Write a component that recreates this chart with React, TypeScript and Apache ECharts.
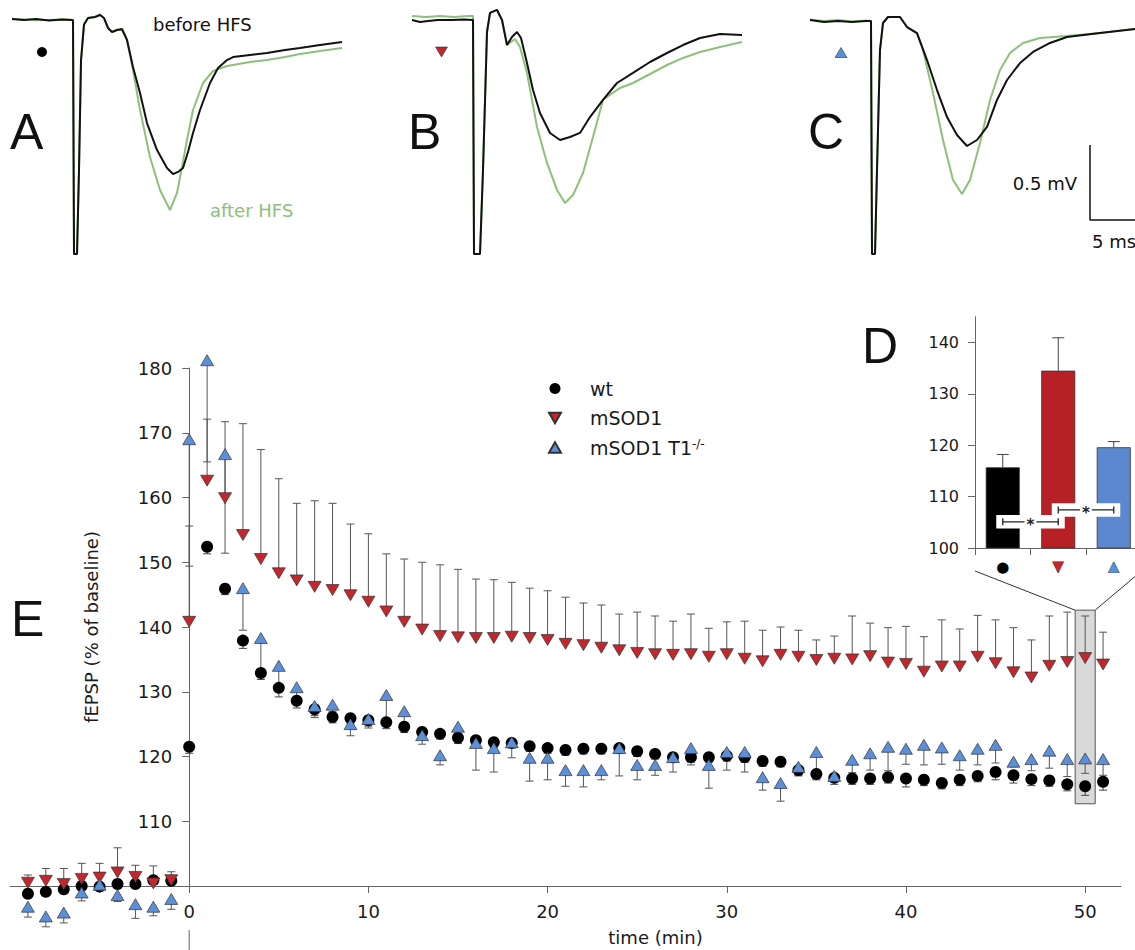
import React, { useEffect, useRef } from 'react';
import * as echarts from 'echarts';

// ---------------- Panel E data (time in min, fEPSP in % of baseline) ----------------
const TIME = [-9, -8, -7, -6, -5, -4, -3, -2, -1, 0, 1, 2, 3, 4, 5, 6, 7, 8, 9, 10, 11, 12, 13, 14, 15, 16, 17, 18, 19, 20, 21, 22, 23, 24, 25, 26, 27, 28, 29, 30, 31, 32, 33, 34, 35, 36, 37, 38, 39, 40, 41, 42, 43, 44, 45, 46, 47, 48, 49, 50, 51];

const WT = [98.8, 99.1, 99.5, 100.0, 99.9, 100.3, 100.3, 100.9, 100.8, 121.5, 152.4, 145.9, 137.9, 132.9, 130.6, 128.6, 127.3, 126.1, 125.9, 125.6, 125.3, 124.6, 123.8, 123.5, 122.9, 122.5, 122.2, 122.1, 121.6, 121.3, 121.0, 121.2, 121.2, 121.3, 120.8, 120.4, 119.9, 119.9, 119.9, 120.1, 119.9, 119.3, 119.2, 117.9, 117.3, 116.7, 116.6, 116.6, 116.8, 116.6, 116.4, 115.9, 116.4, 117.0, 117.6, 117.1, 116.5, 116.3, 115.7, 115.4, 116.1];
const WT_ERR = [0.5, 0.5, 0.6, 0.5, 0.5, 0.6, 0.5, 0.6, 0.5, 1.0, 1.1, 0.9, 1.2, 1.0, 1.4, 1.1, 1.0, 0.9, 0.9, 0.9, 1.0, 0.9, 0.9, 0.8, 0.9, 0.8, 0.8, 0.8, 0.8, 0.8, 0.8, 0.8, 0.8, 0.8, 0.8, 0.8, 0.8, 0.8, 0.8, 0.8, 0.8, 0.8, 0.8, 0.9, 0.9, 1.0, 0.9, 0.9, 0.9, 1.3, 0.9, 0.9, 0.9, 0.9, 1.2, 1.2, 1.0, 0.9, 1.0, 1.4, 1.3];

const MSOD1 = [100.5, 100.8, 100.3, 101.1, 101.3, 102.1, 101.4, 100.4, 100.9, 140.8, 162.6, 159.9, 154.2, 150.5, 148.3, 147.2, 146.2, 145.7, 144.9, 143.9, 142.4, 140.8, 139.6, 138.6, 138.4, 138.3, 138.3, 138.5, 138.3, 138.0, 137.4, 137.2, 136.8, 136.4, 136.0, 135.8, 135.7, 135.8, 135.4, 135.8, 135.1, 134.7, 135.7, 135.4, 134.9, 135.1, 135.0, 135.5, 134.5, 134.3, 133.1, 133.9, 133.9, 135.4, 134.4, 133.0, 132.2, 134.0, 134.6, 135.2, 134.2];
const MSOD1_ERR = [1.2, 1.9, 2.4, 2.4, 2.2, 3.8, 1.8, 2.7, 1.3, 14.8, 9.5, 11.8, 17.2, 16.9, 14.6, 11.9, 13.3, 13.4, 11.0, 10.5, 8.9, 9.7, 10.4, 11.0, 10.5, 9.1, 9.0, 8.4, 7.7, 7.6, 7.2, 6.5, 6.6, 5.6, 6.3, 5.9, 5.2, 6.2, 4.4, 5.0, 5.8, 4.8, 4.3, 4.1, 3.1, 3.5, 6.7, 5.1, 5.4, 5.8, 5.4, 7.2, 5.8, 6.4, 6.7, 6.9, 5.8, 7.7, 7.7, 6.5, 5.0];

const T1KO = [96.8, 95.3, 95.9, 99.0, 100.2, 98.6, 97.2, 96.8, 98.0, 169.0, 181.2, 166.7, 146.0, 138.3, 134.0, 130.7, 127.8, 128.0, 125.0, 125.8, 129.5, 127.0, 123.3, 120.2, 124.6, 122.1, 121.3, 122.2, 119.8, 119.8, 117.9, 117.9, 117.9, 121.3, 118.7, 118.7, 119.9, 121.3, 118.7, 120.7, 120.7, 116.8, 115.9, 118.4, 120.7, 117.0, 119.5, 120.5, 121.5, 121.2, 121.8, 121.4, 120.2, 121.2, 121.8, 119.2, 119.6, 120.9, 119.6, 119.7, 119.6];
const T1KO_ERR = [1.6, 1.6, 1.6, 1.3, 0.8, 1.0, 2.2, 1.4, 1.6, 19.6, 15.7, 15.3, 6.5, 4.8, 3.0, 2.0, 1.8, 1.1, 1.8, 1.4, 3.7, 2.1, 1.4, 1.5, 2.1, 4.2, 3.7, 2.4, 3.6, 3.4, 2.5, 2.6, 1.5, 4.3, 2.3, 1.6, 2.3, 2.6, 3.6, 2.8, 3.1, 2.0, 2.8, 1.3, 3.6, 0.9, 2.0, 2.6, 3.7, 2.4, 3.1, 2.6, 2.3, 2.5, 2.8, 0.8, 1.8, 2.7, 2.7, 2.3, 2.5];

const X_TICKS = [0, 10, 20, 30, 40, 50];
const Y_TICKS = [100, 110, 120, 130, 140, 150, 160, 170, 180];
const Y_LABELS = [110, 120, 130, 140, 150, 160, 170, 180];

// highlighted time window (t = 50 min), in data units
const HIGHLIGHT_T = 50;
const HIGHLIGHT_HALF = 0.56;
const HIGHLIGHT_TOP = 142.6;
const HIGHLIGHT_BOTTOM = 112.7;

// ---------------- Panel D data ----------------
const INSET_GROUPS = ['wt', 'mSOD1', 'mSOD1 T1-/-'];
const INSET_MEANS = [115.7, 134.5, 119.6];
const INSET_ERR = [2.5, 6.4, 1.1];
const INSET_TICKS = [100, 110, 120, 130, 140];
const INSET_SIG = [[0, 1, 105.1], [1, 2, 107.4]];

// ---------------- Panels A-C: traces (ms from stimulus, mV) ----------------
const A_BEFORE = [[-6.2, 0.007], [-5.0, 0.0], [-3.8, 0.007], [-2.5, -0.003], [-1.2, 0.003], [-0.1, 0.0], [0.0, -1.56], [0.3, -1.56], [0.5, -1.0], [0.7, -0.27], [1.0, -0.03], [1.4, 0.013], [2.1, 0.02], [2.6, 0.033], [3.0, 0.013], [3.4, -0.053], [3.8, -0.08], [4.3, -0.067], [4.8, -0.06], [5.3, -0.133], [5.9, -0.313], [6.6, -0.487], [7.3, -0.687], [8.3, -0.867], [9.3, -0.987], [9.9, -1.027], [10.4, -1.013], [10.9, -0.987], [11.4, -0.88], [11.9, -0.753], [12.6, -0.6], [13.6, -0.42], [14.4, -0.32], [15.3, -0.267], [15.9, -0.247], [17.6, -0.233], [19.3, -0.22], [21.1, -0.2], [22.6, -0.187], [24.6, -0.167], [26.8, -0.147]];
const A_AFTER = [[-6.2, 0.007], [-5.0, 0.003], [-3.8, 0.0], [-2.5, 0.0], [-1.2, 0.003], [-0.1, 0.0], [0.0, -1.56], [0.3, -1.56], [0.5, -1.0], [0.7, -0.27], [1.0, -0.03], [1.4, 0.013], [2.1, 0.02], [2.6, 0.037], [3.0, 0.013], [3.4, -0.053], [3.8, -0.08], [4.3, -0.067], [4.8, -0.067], [5.3, -0.133], [5.9, -0.333], [6.6, -0.6], [7.6, -0.913], [8.6, -1.133], [9.6, -1.267], [10.3, -1.153], [10.8, -0.98], [11.3, -0.8], [11.9, -0.6], [12.9, -0.42], [13.9, -0.34], [15.3, -0.307], [15.9, -0.3], [17.6, -0.28], [19.3, -0.267], [21.1, -0.247], [22.6, -0.227], [24.6, -0.207], [26.8, -0.187]];
const B_BEFORE = [[-6.2, 0.0], [-5.4, -0.013], [-4.6, -0.007], [-3.6, 0.0], [-2.2, 0.0], [-1.0, 0.003], [-0.1, 0.0], [0.0, -1.56], [0.6, -1.56], [0.9, -1.0], [1.3, -0.08], [1.6, 0.047], [2.3, 0.067], [2.8, 0.0], [3.3, -0.167], [3.8, -0.113], [4.3, -0.08], [4.7, -0.12], [5.3, -0.287], [5.9, -0.467], [6.6, -0.62], [7.6, -0.753], [8.6, -0.8], [9.6, -0.78], [10.6, -0.753], [11.6, -0.647], [12.9, -0.533], [14.3, -0.42], [15.9, -0.353], [17.6, -0.28], [19.3, -0.22], [20.9, -0.167], [22.6, -0.12], [24.6, -0.093], [26.8, -0.1]];
const B_AFTER = [[-6.2, 0.027], [-4.8, 0.02], [-3.4, 0.027], [-2.0, 0.02], [-0.6, 0.027], [-0.1, 0.027], [0.0, -1.56], [0.6, -1.56], [0.9, -1.0], [1.3, -0.08], [1.6, 0.047], [2.3, 0.067], [2.8, 0.0], [3.3, -0.167], [4.1, -0.127], [4.6, -0.18], [5.3, -0.353], [6.3, -0.713], [7.3, -0.953], [8.3, -1.133], [9.1, -1.22], [9.9, -1.167], [10.9, -1.02], [11.9, -0.78], [12.9, -0.533], [13.3, -0.513], [14.6, -0.453], [15.9, -0.42], [17.6, -0.36], [19.3, -0.3], [20.9, -0.253], [22.6, -0.213], [24.6, -0.18], [26.8, -0.147]];
const C_BEFORE = [[-6.2, 0.0], [-4.8, -0.013], [-3.4, -0.007], [-2.0, -0.013], [-0.6, -0.007], [-0.1, -0.007], [0.0, -1.56], [0.3, -1.56], [0.5, -1.0], [0.8, -0.2], [1.1, -0.02], [1.6, 0.02], [2.8, 0.02], [3.5, -0.047], [4.5, -0.087], [5.5, -0.267], [6.5, -0.467], [7.5, -0.647], [8.5, -0.767], [9.5, -0.84], [10.5, -0.8], [11.5, -0.713], [12.5, -0.533], [13.5, -0.4], [14.8, -0.287], [16.1, -0.213], [17.8, -0.153], [19.5, -0.113], [22.8, -0.087], [26.3, -0.06], [27.3, -0.055]];
const C_AFTER = [[-6.2, 0.003], [-4.8, -0.007], [-3.4, 0.0], [-2.0, -0.01], [-0.6, -0.003], [-0.1, -0.007], [0.0, -1.56], [0.3, -1.56], [0.5, -1.0], [0.8, -0.2], [1.1, -0.02], [1.6, 0.02], [2.8, 0.02], [3.5, -0.047], [4.5, -0.087], [5.1, -0.2], [6.1, -0.487], [7.1, -0.8], [8.1, -1.067], [9.0, -1.16], [9.8, -1.067], [10.8, -0.82], [11.8, -0.533], [12.8, -0.333], [13.8, -0.22], [15.1, -0.153], [16.8, -0.12], [19.5, -0.107], [22.8, -0.087], [26.3, -0.06], [27.3, -0.055]];

// scale bar (panel C)
const SCALE_MV = 0.5;
const SCALE_MS = 5;
const SCALE_ORIGIN = [21.8, -1.333];

const RED = '#c1272d';
const BLUE = '#5b8fd8';
const GREEN = '#8dc07b';
const TXT = '#1a1a1a';
const AXIS = '#666';
const DOWN_TRI = 'path://M0,0L10,0L5,8.66Z';
const UP_TRI = 'path://M5,0L10,8.66L0,8.66Z';

const MAIN_GRID = { left: 10, top: 368, width: 1111, height: 518, outerBoundsMode: 'none' };
const INSET_GRID = { left: 975, top: 316.7, width: 166.5, height: 231.3, outerBoundsMode: 'none' };
const MAIN_X_MIN = -10;
const MAIN_X_MAX = 52;

function errRender(dir: number, capHalf: number, color: string) {
  return (_params: any, api: any) => {
    const t = api.value(0);
    const v = api.value(1);
    const e = api.value(2);
    const p0 = api.coord([t, v]);
    const p1 = api.coord([t, v + dir * e]);
    const st = { stroke: color, lineWidth: 1 };
    return {
      type: 'group',
      children: [
        { type: 'line', shape: { x1: p0[0], y1: p0[1], x2: p1[0], y2: p1[1] }, style: st },
        { type: 'line', shape: { x1: p1[0] - capHalf, y1: p1[1], x2: p1[0] + capHalf, y2: p1[1] }, style: st },
      ],
    };
  };
}

function errSeries(vals: number[], errs: number[], dir: number, color: string) {
  return {
    type: 'custom',
    xAxisIndex: 0,
    yAxisIndex: 0,
    silent: true,
    data: TIME.map((t, i) => [t, vals[i], errs[i]]),
    encode: { x: 0, y: 1 },
    renderItem: errRender(dir, 4, color),
  };
}

function traceSeries(idx: number, data: number[][], color: string) {
  return {
    type: 'line',
    xAxisIndex: idx,
    yAxisIndex: idx,
    data,
    symbol: 'none',
    silent: true,
    lineStyle: { color, width: 2 },
  };
}

export default function App() {
  const ref = useRef<HTMLDivElement>(null);
  useEffect(() => {
    if (!ref.current) return;
    const chart = echarts.init(ref.current, undefined, { renderer: 'svg' });
    const hiddenX = (g: number) => ({ type: 'value', gridIndex: g, min: -6.2, max: 27.3, show: false });
    const hiddenY = (g: number) => ({ type: 'value', gridIndex: g, min: -1.6, max: 0.1333, show: false });
    // y axis sits at t = 0
    const yAxisOffset = -(0 - MAIN_X_MIN) / (MAIN_X_MAX - MAIN_X_MIN) * MAIN_GRID.width;
    const option: any = {
      animation: false,
      backgroundColor: '#ffffff',
      textStyle: { fontFamily: 'DejaVu Sans', color: TXT },
      grid: [
        MAIN_GRID,
        INSET_GRID,
        { left: 12, top: 0, width: 335, height: 260, outerBoundsMode: 'none' },
        { left: 412, top: 0, width: 335, height: 260, outerBoundsMode: 'none' },
        { left: 810, top: 0, width: 335, height: 260, outerBoundsMode: 'none' },
      ],
      legend: {
        orient: 'vertical',
        left: 543,
        top: 374,
        itemWidth: 12,
        itemHeight: 11,
        itemGap: 10.5,
        selectedMode: false,
        data: [
          { name: 'wt', icon: 'circle' },
          { name: 'mSOD1', icon: DOWN_TRI },
          { name: 'mSOD1 T1-/-', icon: UP_TRI },
        ],
        formatter: (name: string) => (name === 'mSOD1 T1-/-' ? '{n|mSOD1 T1}{s|-/-}' : '{n|' + name + '}'),
        textStyle: {
          color: TXT,
          fontSize: 19,
          padding: [0, 0, 0, 24],
          rich: {
            n: { fontSize: 19, color: TXT, fontFamily: 'DejaVu Sans' },
            s: { fontSize: 12, color: TXT, verticalAlign: 'top', fontFamily: 'DejaVu Sans' },
          },
        },
      },
      xAxis: [
        {
          type: 'value', gridIndex: 0, min: MAIN_X_MIN, max: MAIN_X_MAX,
          axisLine: { show: true, onZero: false, lineStyle: { color: AXIS } },
          axisTick: { show: true, customValues: X_TICKS, length: 7, lineStyle: { color: AXIS } },
          axisLabel: { customValues: X_TICKS, fontSize: 18, margin: 16, color: TXT },
          splitLine: { show: false },
          name: 'time (min)', nameLocation: 'middle', nameGap: 42,
          nameTextStyle: { fontSize: 18, color: TXT, padding: [0, 0, 0, 180] },
        },
        {
          type: 'category', gridIndex: 1, data: INSET_GROUPS,
          axisLine: { show: true, lineStyle: { color: AXIS } },
          axisTick: { show: true, length: 7, lineStyle: { color: AXIS } },
          axisLabel: {
            margin: 11,
            formatter: (v: string) => (v === 'wt' ? '{c|●}' : v === 'mSOD1' ? '{d|▼}' : '{u|▲}'),
            rich: {
              c: { fontSize: 15, color: '#000', fontFamily: 'DejaVu Sans' },
              d: { fontSize: 14, color: RED, textBorderColor: '#333', textBorderWidth: 0.8, fontFamily: 'DejaVu Sans' },
              u: { fontSize: 14, color: BLUE, textBorderColor: '#333', textBorderWidth: 0.8, fontFamily: 'DejaVu Sans' },
            },
          },
          splitLine: { show: false },
        },
        hiddenX(2), hiddenX(3), hiddenX(4),
      ],
      yAxis: [
        {
          type: 'value', gridIndex: 0, min: 100, max: 180, offset: yAxisOffset,
          axisLine: { show: true, onZero: false, lineStyle: { color: AXIS } },
          axisTick: { show: true, customValues: Y_TICKS, length: 7, lineStyle: { color: AXIS } },
          axisLabel: { customValues: Y_LABELS, fontSize: 18, margin: 17, color: TXT },
          splitLine: { show: false },
          name: 'fEPSP (% of baseline)', nameLocation: 'middle', nameGap: 89,
          nameTextStyle: { fontSize: 18, color: TXT },
        },
        {
          type: 'value', gridIndex: 1, min: 100, max: 145,
          axisLine: { show: true, lineStyle: { color: AXIS } },
          axisTick: { show: true, customValues: INSET_TICKS, length: 7, lineStyle: { color: AXIS } },
          axisLabel: { customValues: INSET_TICKS, fontSize: 16, margin: 16, color: TXT },
          splitLine: { show: false },
        },
        hiddenY(2), hiddenY(3), hiddenY(4),
      ],
      series: [
        errSeries(WT, WT_ERR, -1, '#444'),
        errSeries(MSOD1, MSOD1_ERR, 1, '#555'),
        errSeries(T1KO, T1KO_ERR, -1, '#555'),
        {
          name: 'wt', type: 'scatter', xAxisIndex: 0, yAxisIndex: 0, clip: false,
          data: TIME.map((t, i) => [t, WT[i]]),
          symbol: 'circle', symbolSize: 12,
          itemStyle: { color: '#000', opacity: 1 },
          markArea: {
            silent: true,
            itemStyle: { color: '#d9d9d9', borderColor: '#555', borderWidth: 1, opacity: 1 },
            data: [[{ coord: [HIGHLIGHT_T - HIGHLIGHT_HALF, HIGHLIGHT_TOP] }, { coord: [HIGHLIGHT_T + HIGHLIGHT_HALF, HIGHLIGHT_BOTTOM] }]],
          },
        },
        {
          name: 'mSOD1', type: 'scatter', xAxisIndex: 0, yAxisIndex: 0, clip: false,
          data: TIME.map((t, i) => [t, MSOD1[i]]),
          symbol: DOWN_TRI, symbolSize: [13, 11],
          itemStyle: { color: RED, borderColor: '#333', borderWidth: 0.7, opacity: 1 },
        },
        {
          name: 'mSOD1 T1-/-', type: 'scatter', xAxisIndex: 0, yAxisIndex: 0, clip: false,
          data: TIME.map((t, i) => [t, T1KO[i]]),
          symbol: UP_TRI, symbolSize: [13, 11],
          itemStyle: { color: BLUE, borderColor: '#333', borderWidth: 0.7, opacity: 1 },
        },
        {
          type: 'bar', xAxisIndex: 1, yAxisIndex: 1, barWidth: 34, silent: true,
          data: INSET_MEANS.map((v, i) => ({
            value: v,
            itemStyle: { color: ['#000000', '#b72025', '#5b88cf'][i], borderColor: '#333', borderWidth: 0.8 },
          })),
        },
        {
          type: 'custom', xAxisIndex: 1, yAxisIndex: 1, silent: true, z: 3,
          data: INSET_MEANS.map((v, i) => [i, v, INSET_ERR[i]]),
          encode: { x: 0, y: 1 },
          renderItem: errRender(1, 6, '#444'),
        },
        {
          type: 'custom', xAxisIndex: 1, yAxisIndex: 1, silent: true, z: 4,
          data: INSET_SIG,
          encode: { x: [0, 1], y: 2 },
          renderItem: (_p: any, api: any) => {
            const p1 = api.coord([api.value(0), api.value(2)]);
            const p2 = api.coord([api.value(1), api.value(2)]);
            const y = p1[1];
            const st = { stroke: '#222', lineWidth: 1.3 };
            return {
              type: 'group',
              children: [
                { type: 'rect', shape: { x: p1[0] - 6.5, y: y - 6.7, width: p2[0] - p1[0] + 13, height: 13.4 }, style: { fill: '#fff' } },
                { type: 'line', shape: { x1: p1[0], y1: y, x2: p2[0], y2: y }, style: st },
                { type: 'line', shape: { x1: p1[0], y1: y - 3.5, x2: p1[0], y2: y + 3.5 }, style: st },
                { type: 'line', shape: { x1: p2[0], y1: y - 3.5, x2: p2[0], y2: y + 3.5 }, style: st },
                {
                  type: 'text', x: (p1[0] + p2[0]) / 2, y: y + 3,
                  style: { text: '*', fill: '#222', font: 'bold 15px "DejaVu Sans"', align: 'center', verticalAlign: 'middle', backgroundColor: '#fff', padding: [0, 2, 0, 2] },
                },
              ],
            };
          },
        },
        traceSeries(2, A_AFTER, GREEN),
        traceSeries(2, A_BEFORE, '#111'),
        traceSeries(3, B_AFTER, GREEN),
        traceSeries(3, B_BEFORE, '#111'),
        traceSeries(4, C_AFTER, GREEN),
        traceSeries(4, C_BEFORE, '#111'),
        {
          type: 'line', xAxisIndex: 4, yAxisIndex: 4, symbol: 'none', silent: true, clip: false,
          lineStyle: { color: '#111', width: 1.5 },
          data: [
            [SCALE_ORIGIN[0], SCALE_ORIGIN[1] + SCALE_MV],
            [SCALE_ORIGIN[0], SCALE_ORIGIN[1]],
            [SCALE_ORIGIN[0] + SCALE_MS, SCALE_ORIGIN[1]],
          ],
        },
      ],
    };
    chart.setOption(option);

    const px = (c: number[]) => chart.convertToPixel({ gridIndex: 0 }, c) as number[];
    const tl = px([HIGHLIGHT_T - HIGHLIGHT_HALF, HIGHLIGHT_TOP]);
    const tr = px([HIGHLIGHT_T + HIGHLIGHT_HALF, HIGHLIGHT_TOP]);
    const insetBottom = INSET_GRID.top + INSET_GRID.height + 23;
    const origin = px([0, 100]);
    const letter = (text: string, x: number, y: number) => ({
      type: 'text', x, y, silent: true,
      style: { text, fill: '#111', font: '50px "Liberation Sans"', align: 'left', verticalAlign: 'middle' },
    });
    const label = (text: string, x: number, y: number, fill: string, align = 'left') => ({
      type: 'text', x, y, silent: true,
      style: { text, fill, font: '18px "DejaVu Sans"', align, verticalAlign: 'middle' },
    });
    chart.setOption({
      graphic: [
        { type: 'line', silent: true, shape: { x1: INSET_GRID.left, y1: insetBottom, x2: tl[0], y2: tl[1] }, style: { stroke: '#333', lineWidth: 1 } },
        { type: 'line', silent: true, shape: { x1: INSET_GRID.left + INSET_GRID.width, y1: insetBottom, x2: tr[0], y2: tr[1] }, style: { stroke: '#333', lineWidth: 1 } },
        { type: 'line', silent: true, shape: { x1: origin[0], y1: origin[1] + 44, x2: origin[0], y2: 952 }, style: { stroke: AXIS, lineWidth: 1 } },
        letter('A', 10, 132),
        letter('B', 408, 132),
        letter('C', 808, 132),
        letter('D', 862, 346),
        letter('E', 11, 619),
        label('before HFS', 153, 24, '#111'),
        label('after HFS', 210, 210, GREEN),
        label('0.5 mV', 1077, 183, '#111', 'right'),
        label('5 ms', 1092, 241, '#111'),
        { type: 'circle', silent: true, shape: { cx: 42, cy: 52, r: 5 }, style: { fill: '#000' } },
        { type: 'polygon', silent: true, shape: { points: [[435.5, 47], [447.5, 47], [441.5, 57]] }, style: { fill: RED, stroke: '#333', lineWidth: 0.6 } },
        { type: 'polygon', silent: true, shape: { points: [[835, 57.5], [847, 57.5], [841, 47.5]] }, style: { fill: BLUE, stroke: '#333', lineWidth: 0.6 } },
      ],
    });
    return () => chart.dispose();
  }, []);
  return <div ref={ref} style={{ position: 'absolute', left: 0, top: 0, width: 1135, height: 950 }} />;
}
